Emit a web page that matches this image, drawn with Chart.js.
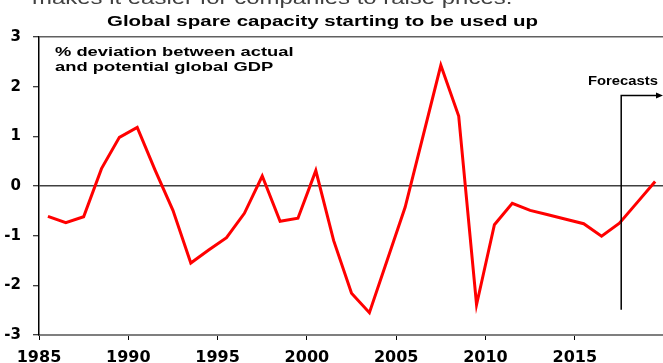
<!DOCTYPE html>
<html>
<head>
<meta charset="utf-8">
<script src="https://cdn.jsdelivr.net/npm/chart.js@4.4.1/dist/chart.umd.min.js"></script>
<style>
    body { margin: 0; background: #fff; }
    canvas { display: block; }
</style>
</head>
<body>
<canvas id="gdpChart" width="663" height="363"></canvas>
<script>
// Данные (середина года -> % отклонения)
const years = [
    1985.5, 1986.5, 1987.5, 1988.5, 1989.5, 1990.5, 1991.5, 1992.5, 1993.5, 1994.5,
    1995.5, 1996.5, 1997.5, 1998.5, 1999.5, 2000.5, 2001.5, 2002.5, 2003.5, 2004.5,
    2005.5, 2006.5, 2007.5, 2008.5, 2009.5, 2010.5, 2011.5, 2012.5, 2013.5, 2014.5,
    2015.5, 2016.5, 2017.5, 2018.5, 2019.5
];
const deviation = [
    -0.61, -0.74, -0.62, 0.35, 0.98, 1.18, 0.32, -0.49, -1.55, -1.29,
    -1.04, -0.55, 0.20, -0.71, -0.65, 0.31, -1.10, -2.16, -2.55, -1.49,
    -0.43, 1.00, 2.43, 1.41, -2.39, -0.78, -0.35, -0.49, -0.58, -0.67,
    -0.76, -1.01, -0.75, -0.33, 0.09
];
const xTicks = [1985, 1990, 1995, 2000, 2005, 2010, 2015];
const yTicks = [-3, -2, -1, 0, 1, 2, 3];

// Подписи
const pageText = 'makes it easier for companies to raise prices.';
const titleText = 'Global spare capacity starting to be used up';
const noteLines = ['% deviation between actual', 'and potential global GDP'];
const forecastLabel = 'Forecasts';
const forecastYear = 2017.6;
const forecastSpan = [1.82, -2.49];

// Текст, растянутый по горизонтали (как в исходной картинке)
function drawStretched(ctx, text, x, y, font, scaleX, color) {
    ctx.save();
    ctx.font = font;
    ctx.fillStyle = color;
    ctx.textBaseline = 'alphabetic';
    ctx.textAlign = 'left';
    ctx.translate(x, y);
    ctx.scale(scaleX, 1);
    ctx.fillText(text, 0, 0);
    ctx.restore();
}

const annotations = {
    id: 'annotations',
    afterDraw(chart) {
        const ctx = chart.ctx;
        const xs = chart.scales.x;
        const ys = chart.scales.y;

        drawStretched(ctx, pageText, 32, 4, '18px "Liberation Sans"', 1.33, '#404040');
        drawStretched(ctx, titleText, 107, 26, 'bold 15.4px "Liberation Sans"', 1.33, '#000');
        drawStretched(ctx, noteLines[0], 55, 55.7, 'bold 13.3px "Liberation Sans"', 1.38, '#000');
        drawStretched(ctx, noteLines[1], 55, 71, 'bold 13.3px "Liberation Sans"', 1.38, '#000');

        // Линия прогноза со стрелкой
        const fx = xs.getPixelForValue(forecastYear);
        const fTop = ys.getPixelForValue(forecastSpan[0]);
        const fBottom = ys.getPixelForValue(forecastSpan[1]);
        const right = chart.width;
        ctx.save();
        ctx.strokeStyle = '#000';
        ctx.lineWidth = 1.5;
        ctx.beginPath();
        ctx.moveTo(fx, fBottom);
        ctx.lineTo(fx, fTop);
        ctx.lineTo(right - 5, fTop);
        ctx.stroke();
        ctx.fillStyle = '#000';
        ctx.beginPath();
        ctx.moveTo(right, fTop);
        ctx.lineTo(right - 7, fTop - 3);
        ctx.lineTo(right - 7, fTop + 3);
        ctx.closePath();
        ctx.fill();
        ctx.restore();

        drawStretched(ctx, forecastLabel, 588, 85, 'bold 13px "Liberation Sans"', 1.14, '#000');
    }
};

const ctx = document.getElementById('gdpChart').getContext('2d');
const tickFontX = { family: 'DejaVu Sans', size: 16, weight: 'bold' };
const tickFontY = { family: 'DejaVu Sans', size: 15, weight: 'bold' };

window.gdpChart = new Chart(ctx, {
    type: 'line',
    data: {
        datasets: [{
            data: years.map((x, i) => ({ x: x, y: deviation[i] })),
            borderColor: '#ff0000',
            borderWidth: 3,
            pointRadius: 0,
            tension: 0,
            fill: false
        }]
    },
    options: {
        responsive: false,
        animation: false,
        layout: { padding: { top: 37, left: 0, right: 0, bottom: 0 } },
        plugins: {
            legend: { display: false },
            tooltip: { enabled: false },
            title: { display: false }
        },
        scales: {
            x: {
                type: 'linear',
                min: 1985,
                max: 2019.94,
                afterBuildTicks: s => { s.ticks = xTicks.map(v => ({ value: v })); },
                afterFit: s => { s.height = 28; },
                ticks: {
                    padding: 8,
                    maxRotation: 0,
                    autoSkip: false,
                    color: '#000',
                    font: tickFontX,
                    callback: v => String(v)
                },
                grid: {
                    drawOnChartArea: false,
                    drawTicks: true,
                    tickLength: 5,
                    tickColor: '#000',
                    tickWidth: 1
                },
                border: { display: true, color: '#7f7f7f', width: 2 }
            },
            y: {
                min: -3,
                max: 3,
                afterBuildTicks: s => { s.ticks = yTicks.map(v => ({ value: v })); },
                afterFit: s => { s.width = 39; },
                ticks: {
                    padding: 12,
                    color: '#000',
                    font: tickFontY,
                    callback: v => String(v)
                },
                grid: {
                    color: c => {
                        if (!c.tick) return 'transparent';
                        if (c.tick.value === 0) return '#404040';
                        if (c.tick.value === 3) return '#606060';
                        return 'transparent';
                    },
                    lineWidth: 1.5,
                    tickLength: 6,
                    tickColor: '#000',
                    tickWidth: 1
                },
                border: { display: true, color: '#000', width: 1.5 }
            }
        }
    },
    plugins: [annotations]
});
</script>
</body>
</html>
